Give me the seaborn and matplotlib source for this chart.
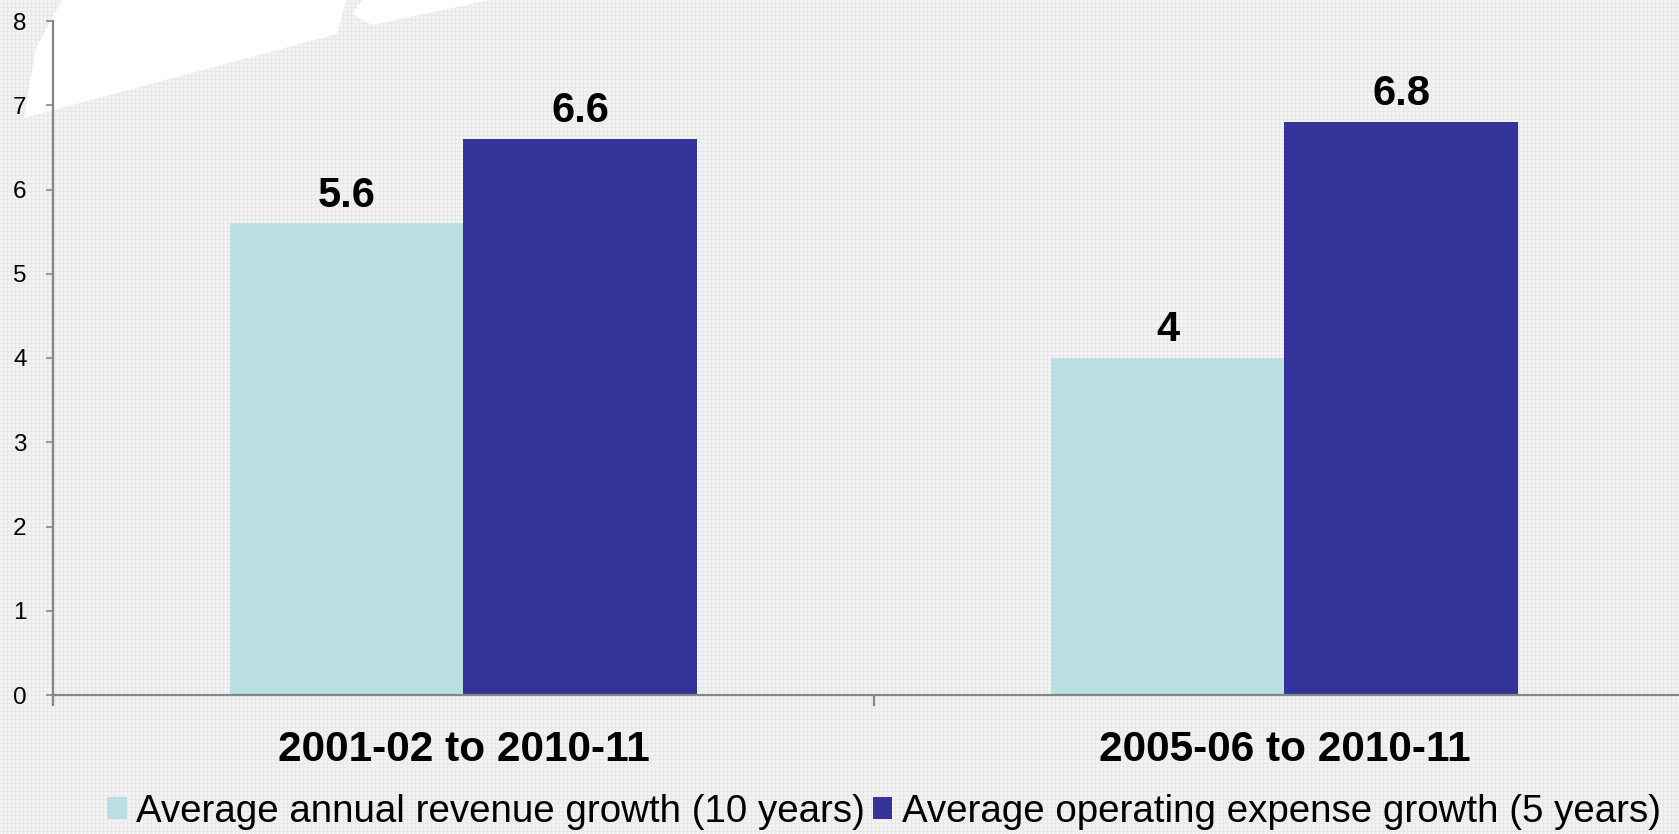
import numpy as np
import pandas as pd
import matplotlib
matplotlib.use("Agg")
import matplotlib.pyplot as plt
from matplotlib.patches import Polygon, Patch
from matplotlib.ticker import FixedLocator
import seaborn as sns

# --- data -------------------------------------------------------------
periods = ["2001-02 to 2010-11", "2005-06 to 2010-11"]
series_names = [
    "Average annual revenue growth (10 years)",
    "Average operating expense growth (5 years)",
]
revenue_growth = [5.6, 4.0]
expense_growth = [6.6, 6.8]
value_labels = [["5.6", "4"], ["6.6", "6.8"]]
y_ticks = [0, 1, 2, 3, 4, 5, 6, 7, 8]

colors = ["#b9dfe2", "#333399"]

df = pd.DataFrame({
    "period": periods * 2,
    "series": [series_names[0]] * len(periods) + [series_names[1]] * len(periods),
    "value": revenue_growth + expense_growth,
})

sns.set_theme(style="white")
plt.rcParams["font.family"] = ["Liberation Sans", "DejaVu Sans"]
plt.rcParams["text.color"] = "black"

W, H = 1679, 834
fig = plt.figure(figsize=(W / 100, H / 100), dpi=100)

# fine dotted slide texture
yy, xx = np.mgrid[0:H, 0:W]
tex = np.full((H, W), 0.945)
tex[(xx % 4 == 3) | (yy % 4 == 3)] = 0.915
tex[(xx % 4 == 1) & (yy % 4 == 1)] = 1.0
fig.figimage(np.dstack([tex] * 3), xo=0, yo=0, zorder=0)

# white swoosh in the upper-left corner (pixel coords, top origin)
def px(points):
    return [(x / W, 1 - y / H) for x, y in points]

for pts in (
    [(24, 118), (36, 48), (62, 0), (346, 0), (337, 34)],
    [(352, 14), (362, 0), (490, 0), (372, 25)],
):
    fig.patches.append(Polygon(px(pts), closed=True, transform=fig.transFigure,
                               facecolor="white", edgecolor="none", zorder=1))

ax = fig.add_axes([53 / W, 1 - 695 / H, (1695 - 53) / W, (695 - 21) / H])
ax.set_facecolor("none")
ax.set_zorder(2)

sns.barplot(data=df, x="period", y="value", hue="series", order=periods,
            hue_order=series_names, palette=colors, width=0.57,
            saturation=1, edgecolor="none", linewidth=0, legend=False, ax=ax)

ax.set_xlim(-0.5, 1.5)
ax.set_ylim(0, 8)
ax.set_xlabel("")
ax.set_ylabel("")
ax.grid(False)

for s in ("top", "right"):
    ax.spines[s].set_visible(False)
for s in ("left", "bottom"):
    ax.spines[s].set_color("#868686")
    ax.spines[s].set_linewidth(1.6)

ax.set_yticks(y_ticks)
ax.set_yticklabels([str(t) for t in y_ticks])
ax.tick_params(axis="y", length=5, width=1.2, color="#868686", pad=14,
               labelsize=17.5, labelcolor="black", left=True)
ax.set_xticks(range(len(periods)))
ax.set_xticklabels(periods, fontsize=30.5, fontweight="bold", color="black")
ax.tick_params(axis="x", which="major", length=0, pad=25, bottom=True)
ax.xaxis.set_minor_locator(FixedLocator([-0.5, 0.5, 1.5]))
ax.tick_params(axis="x", which="minor", length=8, width=1.6, color="#868686",
               bottom=True)

# value labels above each bar
for container, labels in zip(ax.containers, value_labels):
    for bar, text in zip(container, labels):
        ax.annotate(text, (bar.get_x() + bar.get_width() / 2, bar.get_height()),
                    xytext=(0, 12), textcoords="offset points",
                    ha="center", va="baseline", fontsize=30,
                    fontweight="bold", color="black")

handles = [Patch(facecolor=c, edgecolor="none") for c in colors]
fig.legend(handles, series_names, loc="center", ncol=2,
           bbox_to_anchor=(884 / W, 1 - 812 / H), frameon=False, fontsize=27.7,
           handlelength=0.5, handleheight=0.5, handletextpad=0.25,
           columnspacing=0.2, borderpad=0, borderaxespad=0)

fig.savefig("out.png", dpi=100)
